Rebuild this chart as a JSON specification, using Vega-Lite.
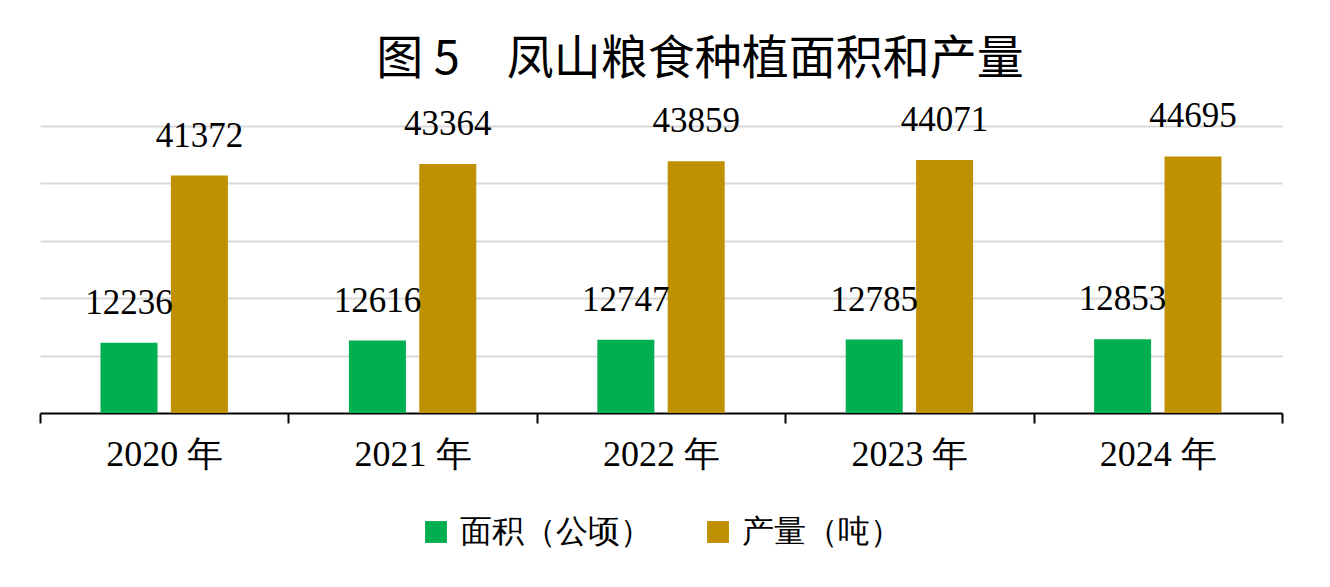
{
  "$schema": "https://vega.github.io/schema/vega-lite/v6.json",
  "autosize": "none",
  "width": 1242,
  "height": 287,
  "padding": {"left": 40, "top": 126, "right": 48, "bottom": 174},
  "title": {
    "text": "图 5　凤山粮食种植面积和产量",
    "font": "Noto Sans CJK SC",
    "fontSize": 47,
    "fontWeight": "normal",
    "color": "#000000",
    "anchor": "middle",
    "dx": 39,
    "offset": 15
  },
  "config": {
    "font": "Liberation Serif",
    "view": {"stroke": null}
  },
  "data": {
    "values": [
      {"year": "2020 年", "series": "面积（公顷）", "value": 12236},
      {"year": "2020 年", "series": "产量（吨）", "value": 41372},
      {"year": "2021 年", "series": "面积（公顷）", "value": 12616},
      {"year": "2021 年", "series": "产量（吨）", "value": 43364},
      {"year": "2022 年", "series": "面积（公顷）", "value": 12747},
      {"year": "2022 年", "series": "产量（吨）", "value": 43859},
      {"year": "2023 年", "series": "面积（公顷）", "value": 12785},
      {"year": "2023 年", "series": "产量（吨）", "value": 44071},
      {"year": "2024 年", "series": "面积（公顷）", "value": 12853},
      {"year": "2024 年", "series": "产量（吨）", "value": 44695}
    ]
  },
  "encoding": {
    "x": {
      "field": "year",
      "type": "nominal",
      "sort": null,
      "scale": {"paddingInner": 0, "paddingOuter": 0},
      "axis": {
        "title": null,
        "labelAngle": 0,
        "labelFont": "Liberation Serif",
        "labelFontSize": 36,
        "labelColor": "#000000",
        "labelPadding": 14,
        "tickBand": "extent",
        "tickSize": 10,
        "tickWidth": 2,
        "tickColor": "#000000",
        "domainColor": "#000000",
        "domainWidth": 2
      }
    },
    "xOffset": {
      "field": "series",
      "type": "nominal",
      "sort": ["面积（公顷）", "产量（吨）"],
      "scale": {"paddingInner": 0.19, "paddingOuter": 0.86}
    },
    "y": {
      "field": "value",
      "type": "quantitative",
      "scale": {"domain": [0, 50000]},
      "axis": {
        "title": null,
        "labels": false,
        "ticks": false,
        "domain": false,
        "values": [10000, 20000, 30000, 40000, 50000],
        "gridColor": "#d9d9d9",
        "gridWidth": 2
      }
    }
  },
  "layer": [
    {
      "mark": {"type": "bar"},
      "encoding": {
        "color": {
          "field": "series",
          "type": "nominal",
          "scale": {
            "domain": ["面积（公顷）", "产量（吨）"],
            "range": ["#00B050", "#BF9000"]
          },
          "legend": {
            "title": null,
            "orient": "none",
            "direction": "horizontal",
            "legendX": 380,
            "legendY": 390,
            "symbolType": "square",
            "symbolSize": 480,
            "symbolOpacity": 1,
            "symbolStrokeWidth": 0,
            "labelFont": "Liberation Serif",
            "labelFontSize": 32,
            "labelColor": "#000000",
            "labelOffset": 8,
            "columnPadding": 50,
            "labelLimit": 400
          }
        }
      }
    },
    {
      "mark": {
        "type": "text",
        "font": "Liberation Serif",
        "fontSize": 35,
        "color": "#000000",
        "baseline": "middle",
        "dy": -40
      },
      "encoding": {
        "text": {"field": "value", "type": "quantitative", "format": "d"}
      }
    }
  ]
}
